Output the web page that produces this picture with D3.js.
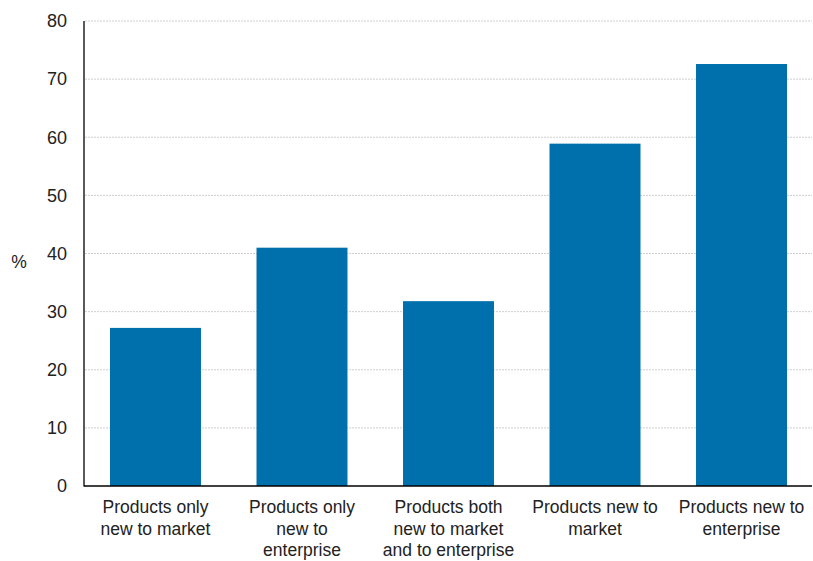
<!DOCTYPE html>
<html><head><meta charset="utf-8">
<script src="https://cdn.jsdelivr.net/npm/d3@7"></script>
<style>body{margin:0;background:#fff}svg{display:block}text{font-family:"Liberation Sans",Arial,sans-serif}</style>
</head><body><svg id="c" width="813" height="561"></svg>
<script>
const categories = [
  ["Products only", "new to market"],
  ["Products only", "new to", "enterprise"],
  ["Products both", "new to market", "and to enterprise"],
  ["Products new to", "market"],
  ["Products new to", "enterprise"]
];
const values = [27.2, 41.0, 31.8, 58.9, 72.6];
const yTicks = [0, 10, 20, 30, 40, 50, 60, 70, 80];

const svg = d3.select("#c");
const x = d3.scaleBand().domain(d3.range(values.length)).range([84, 813]).paddingInner(0.379).paddingOuter(0.1775);
const y = d3.scaleLinear().domain([0, 80]).range([486, 21]);

svg.append("g").selectAll("line").data(yTicks.filter(d => d > 0)).join("line")
  .attr("x1", 85).attr("x2", 812).attr("y1", d => y(d)).attr("y2", d => y(d))
  .attr("stroke", "#cfcfcf").attr("stroke-width", 1).attr("stroke-dasharray", "2,1");

svg.append("g").selectAll("rect").data(values).join("rect")
  .attr("x", (d, i) => x(i)).attr("width", x.bandwidth())
  .attr("y", d => y(d)).attr("height", d => y(0) - y(d))
  .attr("fill", "#0070ad");

svg.append("g").selectAll("text").data(yTicks).join("text")
  .attr("x", 67).attr("y", d => y(d)).attr("dy", "0.35em")
  .attr("text-anchor", "end").attr("font-size", 18).attr("fill", "#222")
  .text(d => d);

svg.append("line").attr("x1", 84).attr("x2", 84).attr("y1", 21).attr("y2", 486.5).attr("stroke", "#000").attr("stroke-width", 1.3);
svg.append("line").attr("x1", 84).attr("x2", 812).attr("y1", 486).attr("y2", 486).attr("stroke", "#000").attr("stroke-width", 1.3);

const lab = svg.append("g").selectAll("text").data(categories).join("text")
  .attr("text-anchor", "middle").attr("font-size", 17.5).attr("fill", "#222")
  .attr("transform", (d, i) => `translate(${x(i) + x.bandwidth() / 2},513)`);
lab.selectAll("tspan").data(d => d).join("tspan")
  .attr("x", 0).attr("y", (d, j) => j * 21.5).text(d => d);

svg.append("text").attr("x", 19).attr("y", 262).attr("dy", "0.35em")
  .attr("text-anchor", "middle").attr("font-size", 17.5).attr("fill", "#222").text("%");
</script></body></html>
